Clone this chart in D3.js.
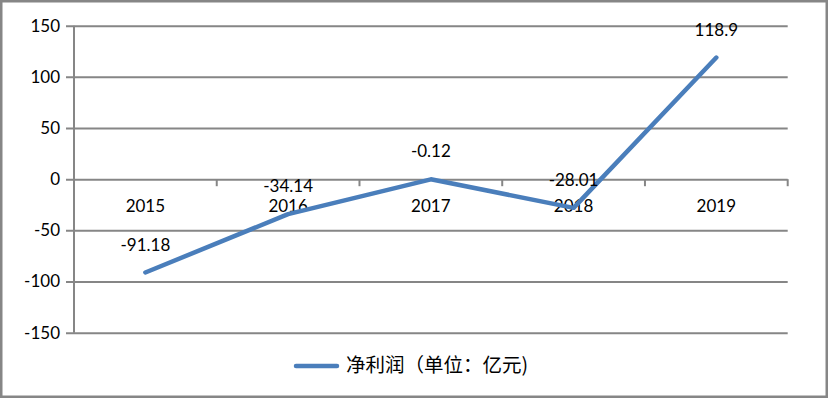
<!DOCTYPE html>
<html>
<head>
<meta charset="utf-8">
<script src="https://cdn.jsdelivr.net/npm/d3@7"></script>
<style>
  body { margin: 0; background: #fff; }
  svg { display: block; }
</style>
</head>
<body>
<div id="chart"></div>
<script>
// data
var years = ["2015", "2016", "2017", "2018", "2019"];
var profit = [-91.18, -34.14, -0.12, -28.01, 118.9];
var profitLabels = ["-91.18", "-34.14", "-0.12", "-28.01", "118.9"];
var yTicks = [-150, -100, -50, 0, 50, 100, 150];
var seriesName = "净利润（单位：亿元)";

var width = 828, height = 398;
var plotLeft = 74, plotRight = 787.7, plotTop = 25.7, plotBottom = 332.7;
var gridColor = "#868686";
var lineColor = "#4A7EBB";
var font = "Lato, 'Liberation Sans', sans-serif";

var svg = d3.select('#chart').append('svg')
      .attr('width', width)
      .attr('height', height);

// outer border
svg.append('rect')
      .attr('x', 1.25).attr('y', 1.25)
      .attr('width', width - 2.5).attr('height', height - 2.5)
      .attr('fill', '#fff')
      .attr('stroke', gridColor)
      .attr('stroke-width', 2.5);

var x = d3.scaleBand().domain(years).range([plotLeft, plotRight]);
var y = d3.scaleLinear().domain([-150, 150]).range([plotBottom, plotTop]);

// y axis with gridlines (plain hyphen for negatives, like the original)
var yAxis = svg.append('g')
      .attr('transform', 'translate(66,0)')
      .call(d3.axisLeft(y).tickValues(yTicks).tickSize(-(plotRight - 66)).tickPadding(6)
            .tickFormat(function (d) { return String(d); }));
yAxis.select('.domain').remove();
yAxis.selectAll('line').attr('stroke', gridColor).attr('stroke-width', 2);
yAxis.selectAll('text')
      .attr('fill', '#000')
      .style('font-family', font)
      .style('font-size', '17px');

// vertical axis line
svg.append('line')
      .attr('x1', plotLeft).attr('x2', plotLeft)
      .attr('y1', y(150)).attr('y2', y(-150))
      .attr('stroke', gridColor).attr('stroke-width', 2);

// category ticks at band edges on the zero line
var edges = years.map(function (d) { return x(d); }).concat([x.range()[1]]);
svg.selectAll('.xtick')
      .data(edges.slice(1))
      .enter().append('line')
      .attr('class', 'xtick')
      .attr('x1', function (d) { return d; })
      .attr('x2', function (d) { return d; })
      .attr('y1', y(0)).attr('y2', y(0) + 7)
      .attr('stroke', gridColor).attr('stroke-width', 2);

// category labels
svg.selectAll('.xlabel')
      .data(years)
      .enter().append('text')
      .attr('class', 'xlabel')
      .attr('x', function (d) { return x(d) + x.bandwidth() / 2; })
      .attr('y', y(0) + 33)
      .attr('text-anchor', 'middle')
      .style('font-family', font)
      .style('font-size', '17px')
      .text(function (d) { return d; });

// line
var pts = years.map(function (d, i) { return { year: d, value: profit[i], label: profitLabels[i] }; });
var line = d3.line()
      .x(function (d) { return x(d.year) + x.bandwidth() / 2; })
      .y(function (d) { return y(d.value); });
svg.append('path')
      .datum(pts)
      .attr('d', line)
      .attr('fill', 'none')
      .attr('stroke', lineColor)
      .attr('stroke-width', 4.5)
      .attr('stroke-linejoin', 'round')
      .attr('stroke-linecap', 'round');

// data labels
svg.selectAll('.dlabel')
      .data(pts)
      .enter().append('text')
      .attr('class', 'dlabel')
      .attr('x', function (d) { return x(d.year) + x.bandwidth() / 2; })
      .attr('y', function (d) { return y(d.value) - 22; })
      .attr('text-anchor', 'middle')
      .style('font-family', font)
      .style('font-size', '17px')
      .text(function (d) { return d.label; });

// legend
svg.append('line')
      .attr('x1', 296).attr('x2', 337)
      .attr('y1', 366).attr('y2', 366)
      .attr('stroke', lineColor)
      .attr('stroke-width', 4.5)
      .attr('stroke-linecap', 'round');
svg.append('text')
      .attr('x', 346).attr('y', 372)
      .style('font-family', "'Noto Sans CJK SC', sans-serif")
      .style('font-size', '19.5px')
      .text(seriesName);
</script>
</body>
</html>
